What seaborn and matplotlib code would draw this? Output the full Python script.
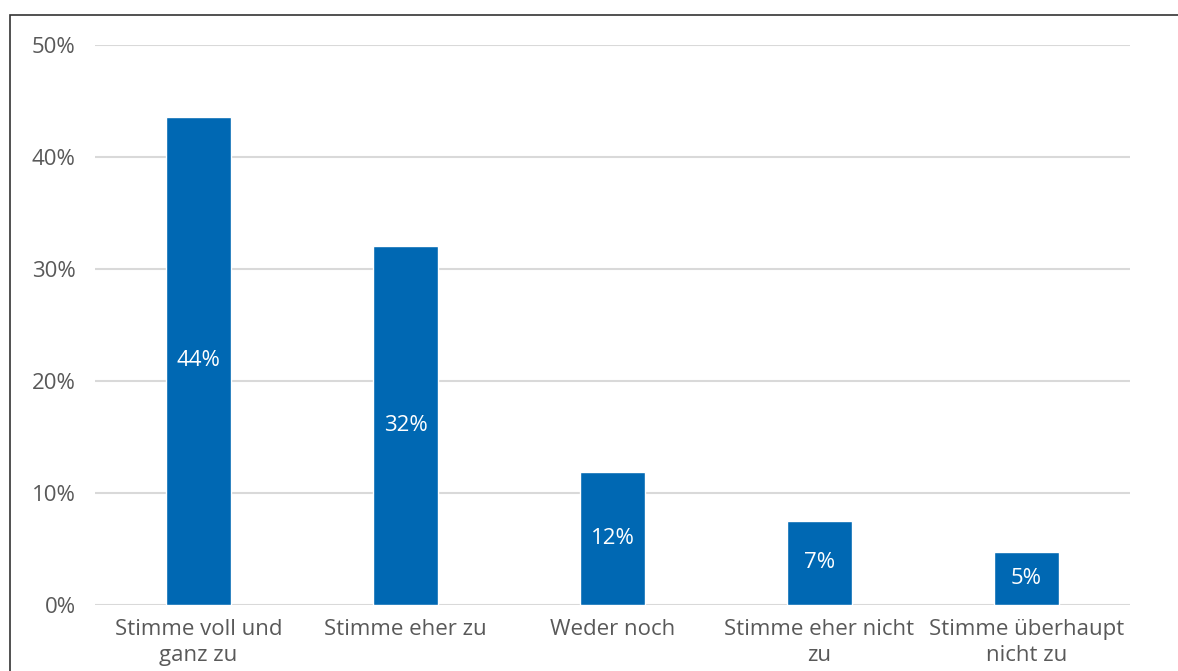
import matplotlib
matplotlib.use("Agg")
import matplotlib.pyplot as plt
import seaborn as sns
import pandas as pd
from matplotlib.patches import Rectangle
from matplotlib.ticker import PercentFormatter

# Daten
categories = ["Stimme voll und\nganz zu", "Stimme eher zu", "Weder noch",
              "Stimme eher nicht\nzu", "Stimme überhaupt\nnicht zu"]
values = [0.436, 0.3205, 0.119, 0.075, 0.0475]
labels = ["44%", "32%", "12%", "7%", "5%"]

BLUE = "#0068b3"
GREY = "#595959"

sns.set_theme(style="white")
plt.rcParams["font.family"] = ["Open Sans", "DejaVu Sans"]

df = pd.DataFrame({"cat": categories, "val": values})

fig = plt.figure(figsize=(11.78, 6.71), dpi=100)
ax = fig.add_axes([95 / 1178, 66 / 671, 1035 / 1178, 560 / 671])

sns.barplot(data=df, x="cat", y="val", color=BLUE, saturation=1,
            width=0.314, ax=ax, zorder=3)

for p, lab in zip(ax.patches, labels):
    ax.text(p.get_x() + p.get_width() / 2, p.get_height() / 2, lab,
            ha="center", va="center", color="white", fontsize=16, zorder=4)

ax.set_ylim(0, 0.5)
ax.set_yticks([0, 0.1, 0.2, 0.3, 0.4, 0.5])
ax.yaxis.set_major_formatter(PercentFormatter(1.0, decimals=0))
ax.grid(axis="y", color="#d9d9d9", linewidth=1.5, zorder=0)
for s in ax.spines.values():
    s.set_visible(False)
ax.set_xlabel("")
ax.set_ylabel("")
ax.tick_params(axis="both", length=0, labelsize=16, colors=GREY)
ax.tick_params(axis="y", pad=14)
ax.tick_params(axis="x", pad=10)
for t in ax.get_xticklabels():
    t.set_linespacing(1.3)

# Rahmen um das Diagramm (rechts und unten abgeschnitten)
fig.patches.append(Rectangle((10 / 1178, -0.05), 1.2, 1 - 15 / 671 + 0.05,
                             transform=fig.transFigure, fill=False,
                             edgecolor="#333333", linewidth=1.2, clip_on=False))

fig.savefig("out.png", dpi=100)
